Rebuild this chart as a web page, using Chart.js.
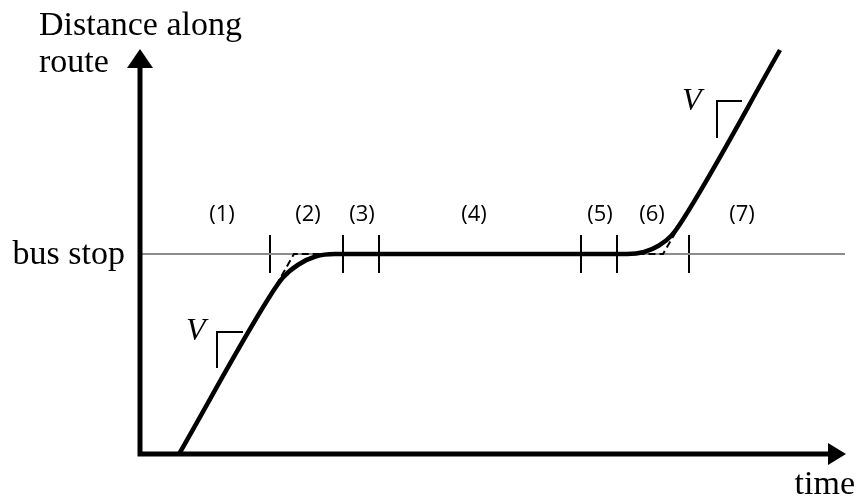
<!DOCTYPE html>
<html>
<head>
<meta charset="utf-8">
<script src="https://cdn.jsdelivr.net/npm/chart.js@4.4.1/dist/chart.umd.min.js"></script>
<style>
  html, body { margin: 0; padding: 0; background: #fff; }
  #wrap { width: 856px; height: 496px; position: relative; }
</style>
</head>
<body>
<div id="wrap"><canvas id="busChart"></canvas></div>
<script>
// time / distance in arbitrary units
const trajectoryTime     = [0.78, 2.6, 2.86, 3.17, 3.51, 3.9, 9.74, 10.08, 10.38, 10.63, 10.84, 12.8];
const trajectoryDistance = [0,    3.16, 3.53, 3.79, 3.95, 4,  4,    4.04,  4.17,  4.37,  4.66,  8.08];

const leftIdealTime      = [2.72, 3.08, 3.6];
const leftIdealDistance  = [3.37, 4,    4];
const rightIdealTime     = [9.95, 10.46, 10.75];
const rightIdealDistance = [4,    4,     4.5];

const busStopDistance = 4;
const busStopLineEnd = 14.1;

const phaseLabels = ['(1)', '(2)', '(3)', '(4)', '(5)', '(6)', '(7)'];
const phaseLabelTime = [1.64, 3.36, 4.44, 6.68, 9.2, 10.24, 12.04];
const phaseLabelDistance = 4.78;
const phaseBoundaryTime = [2.6, 4.06, 4.78, 8.82, 9.54, 10.98];

const slopeMarkTime = [[2.06, 1.54, 1.54], [12.04, 11.54, 11.54]];
const slopeMarkDistance = [[2.44, 2.44, 1.72], [7.06, 7.06, 6.32]];

const axisTimeEnd = 14.12;
const axisDistanceEnd = 8.1;

function pts(xs, ys) {
    return xs.map((x, i) => ({ x: x, y: ys[i] }));
}

(function(){
    const serif = '"Liberation Serif", "Times New Roman", serif';

    const sketchPlugin = {
        id: 'sketch',
        beforeDatasetsDraw(chart) {
            const { ctx, scales: { x, y } } = chart;
            ctx.save();
            // phase boundary ticks
            ctx.strokeStyle = '#000';
            ctx.lineWidth = 2;
            phaseBoundaryTime.forEach(t => {
                const px = x.getPixelForValue(t);
                ctx.beginPath();
                ctx.moveTo(px, y.getPixelForValue(busStopDistance + 0.38));
                ctx.lineTo(px, y.getPixelForValue(busStopDistance - 0.38));
                ctx.stroke();
            });
            ctx.restore();
        },
        afterDatasetsDraw(chart) {
            const { ctx, scales: { x, y } } = chart;
            const x0 = x.getPixelForValue(0);
            const y0 = y.getPixelForValue(0);
            ctx.save();
            ctx.fillStyle = '#000';

            // arrow heads
            const yTip = y.getPixelForValue(axisDistanceEnd);
            ctx.beginPath();
            ctx.moveTo(x0, yTip);
            ctx.lineTo(x0 - 13, yTip + 19);
            ctx.lineTo(x0 + 13, yTip + 19);
            ctx.closePath();
            ctx.fill();

            const xTip = x.getPixelForValue(axisTimeEnd);
            ctx.beginPath();
            ctx.moveTo(xTip, y0);
            ctx.lineTo(xTip - 18, y0 - 11);
            ctx.lineTo(xTip - 18, y0 + 11);
            ctx.closePath();
            ctx.fill();

            // axis titles
            ctx.font = '34px ' + serif;
            ctx.textBaseline = 'alphabetic';
            ctx.textAlign = 'left';
            ctx.fillText('Distance along', x0 - 101, 35);
            ctx.fillText('route', x0 - 101, 72);
            ctx.textAlign = 'right';
            ctx.fillText('time', 855, y0 + 40);
            ctx.fillText('bus stop', x0 - 15, y.getPixelForValue(busStopDistance) + 10);

            // slope labels
            ctx.font = 'italic 32px ' + serif;
            ctx.textAlign = 'left';
            ctx.fillText('V', x.getPixelForValue(0.92), y.getPixelForValue(2.28));
            ctx.fillText('V', x.getPixelForValue(10.84), y.getPixelForValue(6.88));

            // phase labels
            ctx.font = '22px "Open Sans", sans-serif';
            ctx.textAlign = 'center';
            ctx.textBaseline = 'middle';
            phaseLabels.forEach((lab, i) => {
                ctx.fillText(lab, x.getPixelForValue(phaseLabelTime[i]), y.getPixelForValue(phaseLabelDistance));
            });
            ctx.restore();
        }
    };

    const base = { showLine: true, pointRadius: 0, fill: false, borderColor: '#000' };

    new Chart(document.getElementById('busChart'), {
        type: 'scatter',
        data: {
            datasets: [
                {
                    ...base,
                    data: pts(trajectoryTime, trajectoryDistance),
                    borderWidth: 4.5,
                    cubicInterpolationMode: 'monotone',
                    order: 1
                },
                {
                    ...base,
                    data: pts(leftIdealTime, leftIdealDistance),
                    borderWidth: 2,
                    borderDash: [7, 4],
                    order: 2
                },
                {
                    ...base,
                    data: pts(rightIdealTime, rightIdealDistance),
                    borderWidth: 2,
                    borderDash: [7, 4],
                    order: 2
                },
                {
                    ...base,
                    data: pts(slopeMarkTime[0], slopeMarkDistance[0]),
                    borderWidth: 2,
                    borderJoinStyle: 'miter',
                    order: 2
                },
                {
                    ...base,
                    data: pts(slopeMarkTime[1], slopeMarkDistance[1]),
                    borderWidth: 2,
                    borderJoinStyle: 'miter',
                    order: 2
                },
                {
                    // axes
                    ...base,
                    data: pts([axisTimeEnd - 0.36, 0, 0], [0, 0, axisDistanceEnd - 0.38]),
                    borderWidth: 5,
                    borderJoinStyle: 'miter',
                    order: 1
                },
                {
                    ...base,
                    data: pts([0, busStopLineEnd], [busStopDistance, busStopDistance]),
                    borderColor: '#8c8c8c',
                    borderWidth: 2,
                    order: 5
                }
            ]
        },
        options: {
            responsive: true,
            maintainAspectRatio: false,
            animation: false,
            layout: { padding: 0 },
            plugins: {
                legend: { display: false },
                tooltip: { enabled: false }
            },
            scales: {
                x: { type: 'linear', min: -2.8, max: 14.32, display: false },
                y: { type: 'linear', min: -0.84, max: 9.08, display: false }
            }
        },
        plugins: [sketchPlugin]
    });
})();
</script>
</body>
</html>
